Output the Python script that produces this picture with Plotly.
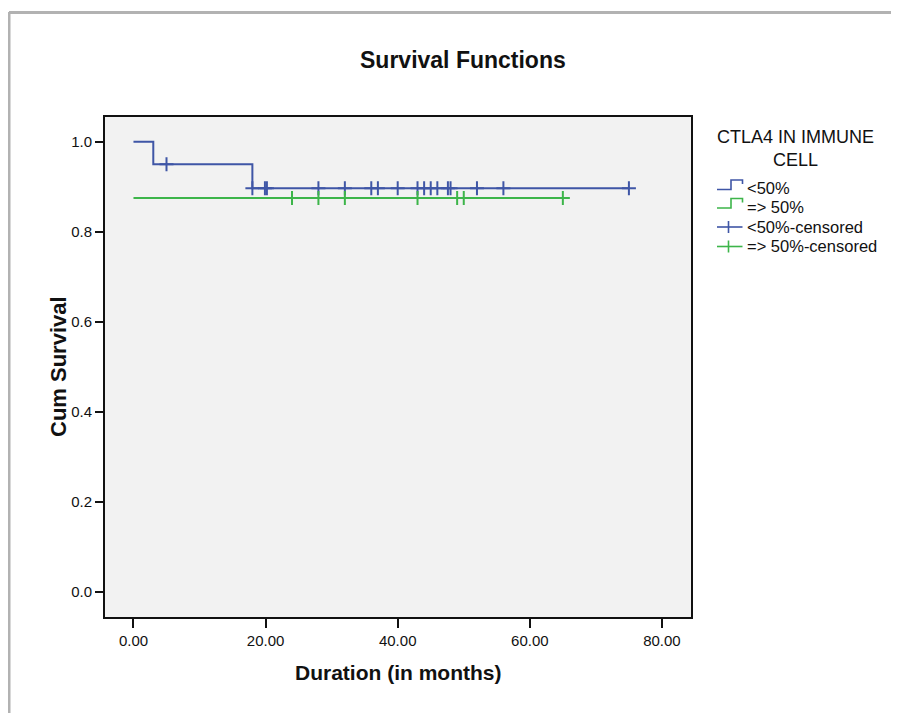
import plotly.graph_objects as go

# ---- data ----
blue_time = [0, 3, 18, 75]
blue_surv = [1.0, 0.95, 0.897, 0.897]
green_time = [0, 65]
green_surv = [0.875, 0.875]
blue_cens_time = [5, 18, 19.9, 20.2, 28, 32, 36, 37, 40, 43, 44, 45, 46, 47.6, 48, 52, 56, 75]
blue_cens_surv = [0.95, 0.897, 0.897, 0.897, 0.897, 0.897, 0.897, 0.897, 0.897,
                  0.897, 0.897, 0.897, 0.897, 0.897, 0.897, 0.897, 0.897, 0.897]
green_cens_time = [24, 28, 32, 43, 49, 50, 65]
green_cens_surv = [0.875, 0.875, 0.875, 0.875, 0.875, 0.875, 0.875]
x_ticks = [0, 20, 40, 60, 80]
y_ticks = [0.0, 0.2, 0.4, 0.6, 0.8, 1.0]
legend_title = "CTLA4 IN IMMUNE<br>CELL"
legend_labels = ["<50%", "=> 50%", "<50%-censored", "=> 50%-censored"]

BLUE = "#3F56A6"
GREEN = "#3DB54A"
FONT = "Liberation Sans, Arial, sans-serif"

W, H = 899, 713
OFF = 8  # page body margin: figure origin sits at (8, 8) on screen
# plot area in screen pixels
SL, SR, ST, SB = 105, 691, 117, 617
L, R, T, B = SL - OFF, SR - OFF, ST - OFF, SB - OFF


def px(x):
    return (x - SL) / (SR - SL)


def py(y):
    return (SB - y) / (SB - ST)


fig = go.Figure()
fig.add_trace(go.Scatter(x=blue_time, y=blue_surv, mode="lines", line_shape="hv",
                         line=dict(color=BLUE, width=2), showlegend=False, hoverinfo="skip"))
fig.add_trace(go.Scatter(x=green_time, y=green_surv, mode="lines", line_shape="hv",
                         line=dict(color=GREEN, width=2), showlegend=False, hoverinfo="skip"))
fig.add_trace(go.Scatter(x=blue_cens_time, y=blue_cens_surv, mode="markers",
                         marker=dict(symbol="cross-thin", size=10, line=dict(color=BLUE, width=2)),
                         showlegend=False, hoverinfo="skip"))
fig.add_trace(go.Scatter(x=green_cens_time, y=green_cens_surv, mode="markers",
                         marker=dict(symbol="cross-thin", size=10, line=dict(color=GREEN, width=2)),
                         showlegend=False, hoverinfo="skip"))

shapes = []
annotations = []

# outer gray frame
shapes.append(dict(type="line", xref="paper", yref="paper", x0=px(9), x1=px(9), y0=py(12), y1=py(760),
                   line=dict(color="#B2B2B2", width=3)))
shapes.append(dict(type="line", xref="paper", yref="paper", x0=px(9), x1=px(960), y0=py(12.5), y1=py(12.5),
                   line=dict(color="#B2B2B2", width=3)))

# title and axis titles
annotations.append(dict(text="<b>Survival Functions</b>", xref="paper", yref="paper",
                        x=px(463), y=py(60), showarrow=False, xanchor="center", yanchor="middle",
                        font=dict(family=FONT, size=23, color="#111")))
annotations.append(dict(text="<b>Duration (in months)</b>", xref="paper", yref="paper",
                        x=px(398), y=py(672), showarrow=False, xanchor="center", yanchor="middle",
                        font=dict(family=FONT, size=21, color="#111")))
annotations.append(dict(text="<b>Cum Survival</b>", xref="paper", yref="paper", textangle=-90,
                        x=px(58), y=py(367), showarrow=False, xanchor="center", yanchor="middle",
                        font=dict(family=FONT, size=22, color="#111")))

# legend (drawn manually to reproduce step icons)
annotations.append(dict(text=legend_title, xref="paper", yref="paper", x=px(796), y=py(148),
                        showarrow=False, xanchor="center", yanchor="middle", align="center",
                        font=dict(family=FONT, size=18, color="#111")))
item_y = [188, 206.5, 226.5, 246]
colors = [BLUE, GREEN, BLUE, GREEN]
for i, (lab, yy, c) in enumerate(zip(legend_labels, item_y, colors)):
    annotations.append(dict(text=lab, xref="paper", yref="paper", x=px(745), y=py(yy),
                            showarrow=False, xanchor="left", yanchor="middle",
                            font=dict(family=FONT, size=16.5, color="#111")))
    if i < 2:
        lo, hi = yy + 1.5, yy - 8
        path = (f"M {px(717)},{py(lo)} L {px(731)},{py(lo)} L {px(731)},{py(hi)} "
                f"L {px(742.5)},{py(hi)} L {px(742.5)},{py(hi + 4)}")
        shapes.append(dict(type="path", xref="paper", yref="paper", path=path,
                           line=dict(color=c, width=1.6)))
    else:
        yc = yy + 0.5
        shapes.append(dict(type="line", xref="paper", yref="paper", x0=px(717), x1=px(742.5),
                           y0=py(yc), y1=py(yc), line=dict(color=c, width=1.6)))
        shapes.append(dict(type="line", xref="paper", yref="paper", x0=px(728.5), x1=px(728.5),
                           y0=py(yc - 6), y1=py(yc + 6), line=dict(color=c, width=1.6)))

fig.update_layout(
    width=W, height=H,
    margin=dict(l=L, r=W - R, t=T, b=H - B, pad=0),
    paper_bgcolor="white", plot_bgcolor="#F2F2F2",
    font=dict(family=FONT, size=15, color="#111"),
    shapes=shapes, annotations=annotations,
    showlegend=False,
)
fig.update_xaxes(range=[-4.31, 84.4], tickvals=x_ticks, tickformat=".2f",
                 ticks="outside", ticklen=9, tickwidth=2, tickcolor="#111",
                 showline=True, linecolor="#111", linewidth=2, mirror=True,
                 showgrid=False, zeroline=False, tickfont=dict(size=15))
fig.update_yaxes(range=[-0.055, 1.055], tickvals=y_ticks, tickformat=".1f",
                 ticks="outside", ticklen=8, tickwidth=2, tickcolor="#111",
                 showline=True, linecolor="#111", linewidth=2, mirror=True,
                 showgrid=False, zeroline=False, tickfont=dict(size=15))

fig.write_html("out.html")
